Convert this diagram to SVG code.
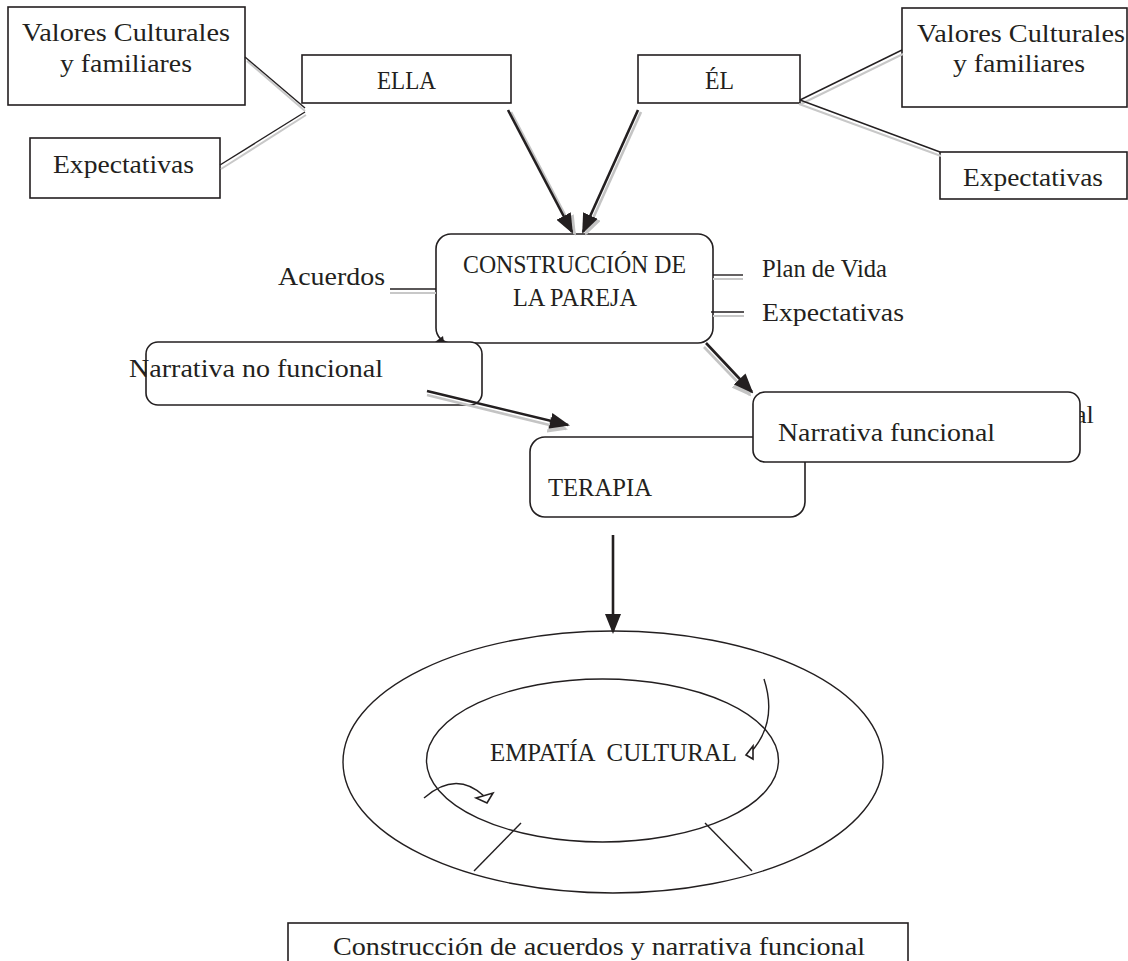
<svg xmlns="http://www.w3.org/2000/svg" width="1128" height="961" viewBox="0 0 1128 961">
<defs>
<style>
text{font-family:"Liberation Serif","DejaVu Serif",serif;font-size:26px;fill:#231f20;}
.box{fill:#fff;stroke:#231f20;stroke-width:1.6;}
.ln{fill:none;stroke:#231f20;stroke-width:1.4;}
.sh{fill:none;stroke:#c8c8c8;stroke-width:2;}
.ar{fill:none;stroke:#231f20;stroke-width:2.6;}
.ash{fill:none;stroke:#c4c4c4;stroke-width:2.6;}
.open{fill:#fff;stroke:#231f20;stroke-width:1.6;}
</style>
<marker id="ah" markerUnits="userSpaceOnUse" markerWidth="20" markerHeight="16" viewBox="0 0 20 16" refX="18" refY="8" orient="auto">
<path d="M0,0 L20,8 L0,16 Z" fill="#231f20"/>
</marker>
<marker id="ahs" markerUnits="userSpaceOnUse" markerWidth="20" markerHeight="16" viewBox="0 0 20 16" refX="18" refY="8" orient="auto">
<path d="M0,0 L20,8 L0,16 Z" fill="#c4c4c4"/>
</marker>
</defs>
<rect width="1128" height="961" fill="#fff"/>

<text x="1075" y="423">al</text>

<g id="valores-izq">
<rect class="box" x="8" y="7" width="237" height="98"/>
<text x="22" y="41" textLength="208" lengthAdjust="spacingAndGlyphs">Valores Culturales</text>
<text x="60" y="72" textLength="132" lengthAdjust="spacingAndGlyphs">y familiares</text>
</g>
<g id="expectativas-izq">
<rect class="box" x="30" y="138" width="190" height="60"/>
<text x="53" y="173" textLength="141" lengthAdjust="spacingAndGlyphs">Expectativas</text>
</g>
<g id="ella">
<rect class="box" x="302" y="55" width="209" height="48"/>
<text x="377" y="89" textLength="59" lengthAdjust="spacingAndGlyphs">ELLA</text>
</g>
<g id="el">
<rect class="box" x="638" y="55" width="162" height="48"/>
<text x="705" y="89" textLength="29" lengthAdjust="spacingAndGlyphs">ÉL</text>
</g>
<g id="valores-der">
<rect class="box" x="902" y="8" width="225" height="99"/>
<text x="917" y="42" textLength="208" lengthAdjust="spacingAndGlyphs">Valores Culturales</text>
<text x="953" y="72" textLength="132" lengthAdjust="spacingAndGlyphs">y familiares</text>
</g>
<g id="expectativas-der">
<rect class="box" x="940" y="152" width="187" height="47"/>
<text x="963" y="186" textLength="140" lengthAdjust="spacingAndGlyphs">Expectativas</text>
</g>
<g id="construccion">
<rect class="box" x="436" y="234" width="277" height="109" rx="15"/>
<text x="463" y="273" textLength="223" lengthAdjust="spacingAndGlyphs">CONSTRUCCIÓN DE</text>
<text x="513" y="306" textLength="124" lengthAdjust="spacingAndGlyphs">LA PAREJA</text>
<path d="M435,342 L443,336 L444,342 Z" fill="#231f20"/>
</g>
<g id="acuerdos">
<text x="278" y="285" textLength="107" lengthAdjust="spacingAndGlyphs">Acuerdos</text>
</g>
<g id="plan-de-vida">
<text x="762" y="277" font-size="21" textLength="125" lengthAdjust="spacingAndGlyphs">Plan de Vida</text>
</g>
<g id="expectativas-centro">
<text x="762" y="321" textLength="142" lengthAdjust="spacingAndGlyphs">Expectativas</text>
</g>
<g id="narrativa-no-funcional">
<rect class="box" x="146" y="342" width="336" height="63" rx="12"/>
<text x="129" y="377" textLength="254" lengthAdjust="spacingAndGlyphs">Narrativa no funcional</text>
</g>
<g id="terapia">
<rect class="box" x="530" y="437" width="275" height="80" rx="15"/>
<text x="548" y="496" textLength="104" lengthAdjust="spacingAndGlyphs">TERAPIA</text>
</g>
<g id="narrativa-funcional">
<rect class="box" x="753" y="392" width="327" height="70" rx="12"/>
<text x="778" y="441" textLength="217" lengthAdjust="spacingAndGlyphs">Narrativa funcional</text>
</g>
<g id="empatia">
<ellipse class="ln" cx="613" cy="762" rx="270" ry="131" stroke-width="1.6"/>
<ellipse class="ln" cx="602.5" cy="760.5" rx="176" ry="81.5" stroke-width="1.6"/>
<line class="ln" x1="521" y1="823" x2="474" y2="871"/>
<line class="ln" x1="705" y1="823" x2="752" y2="871"/>
<text x="490" y="761" xml:space="preserve" textLength="247" lengthAdjust="spacingAndGlyphs">EMPATÍA  CULTURAL</text>
<path class="ln" d="M764,679 Q778,722 751,752" stroke-width="1.8"/>
<path class="open" d="M753,746 L746,755 L753,759 Z"/>
<path class="ln" d="M424,798 Q456,770 484,796" stroke-width="1.8"/>
<path class="open" d="M476,798 L493,793 L487,803 Z"/>
</g>
<g id="construccion-acuerdos">
<rect class="box" x="288" y="923" width="620" height="50"/>
<text x="333" y="955" textLength="532" lengthAdjust="spacingAndGlyphs">Construcción de acuerdos y narrativa funcional</text>
</g>

<g id="connectors">
<line class="sh" x1="247" y1="61" x2="305" y2="111"/>
<line class="ln" x1="245" y1="57" x2="305" y2="108"/>
<line class="sh" x1="221" y1="169" x2="306" y2="115"/>
<line class="ln" x1="220" y1="165" x2="305" y2="112"/>
<line class="sh" x1="801" y1="104" x2="903" y2="54"/>
<line class="ln" x1="800" y1="100" x2="902" y2="50"/>
<line class="sh" x1="799" y1="104" x2="941" y2="156"/>
<line class="ln" x1="800" y1="100" x2="940" y2="152"/>
<line class="sh" x1="390" y1="293" x2="436" y2="293"/>
<line class="ln" x1="390" y1="289" x2="436" y2="289"/>
<line class="sh" x1="713" y1="279" x2="743" y2="279"/>
<line class="ln" x1="713" y1="275" x2="743" y2="275"/>
<line class="sh" x1="713" y1="316" x2="744" y2="316"/>
<line class="ln" x1="711" y1="312" x2="744" y2="312"/>
<line class="ash" x1="511" y1="112" x2="575" y2="234" marker-end="url(#ahs)"/>
<line class="ar" x1="508" y1="110" x2="572" y2="232" marker-end="url(#ah)"/>
<line class="ash" x1="641" y1="112" x2="586" y2="234" marker-end="url(#ahs)"/>
<line class="ar" x1="638" y1="110" x2="583" y2="232" marker-end="url(#ah)"/>
<line class="ash" x1="427" y1="395" x2="566" y2="429" marker-end="url(#ahs)"/>
<line class="ar" x1="427" y1="391" x2="568" y2="425" marker-end="url(#ah)"/>
<line class="ash" x1="704" y1="347" x2="750" y2="395" marker-end="url(#ahs)"/>
<line class="ar" x1="706" y1="343" x2="752" y2="392" marker-end="url(#ah)"/>
<line class="ar" x1="613" y1="535" x2="613" y2="632" marker-end="url(#ah)"/>
</g>
</svg>
